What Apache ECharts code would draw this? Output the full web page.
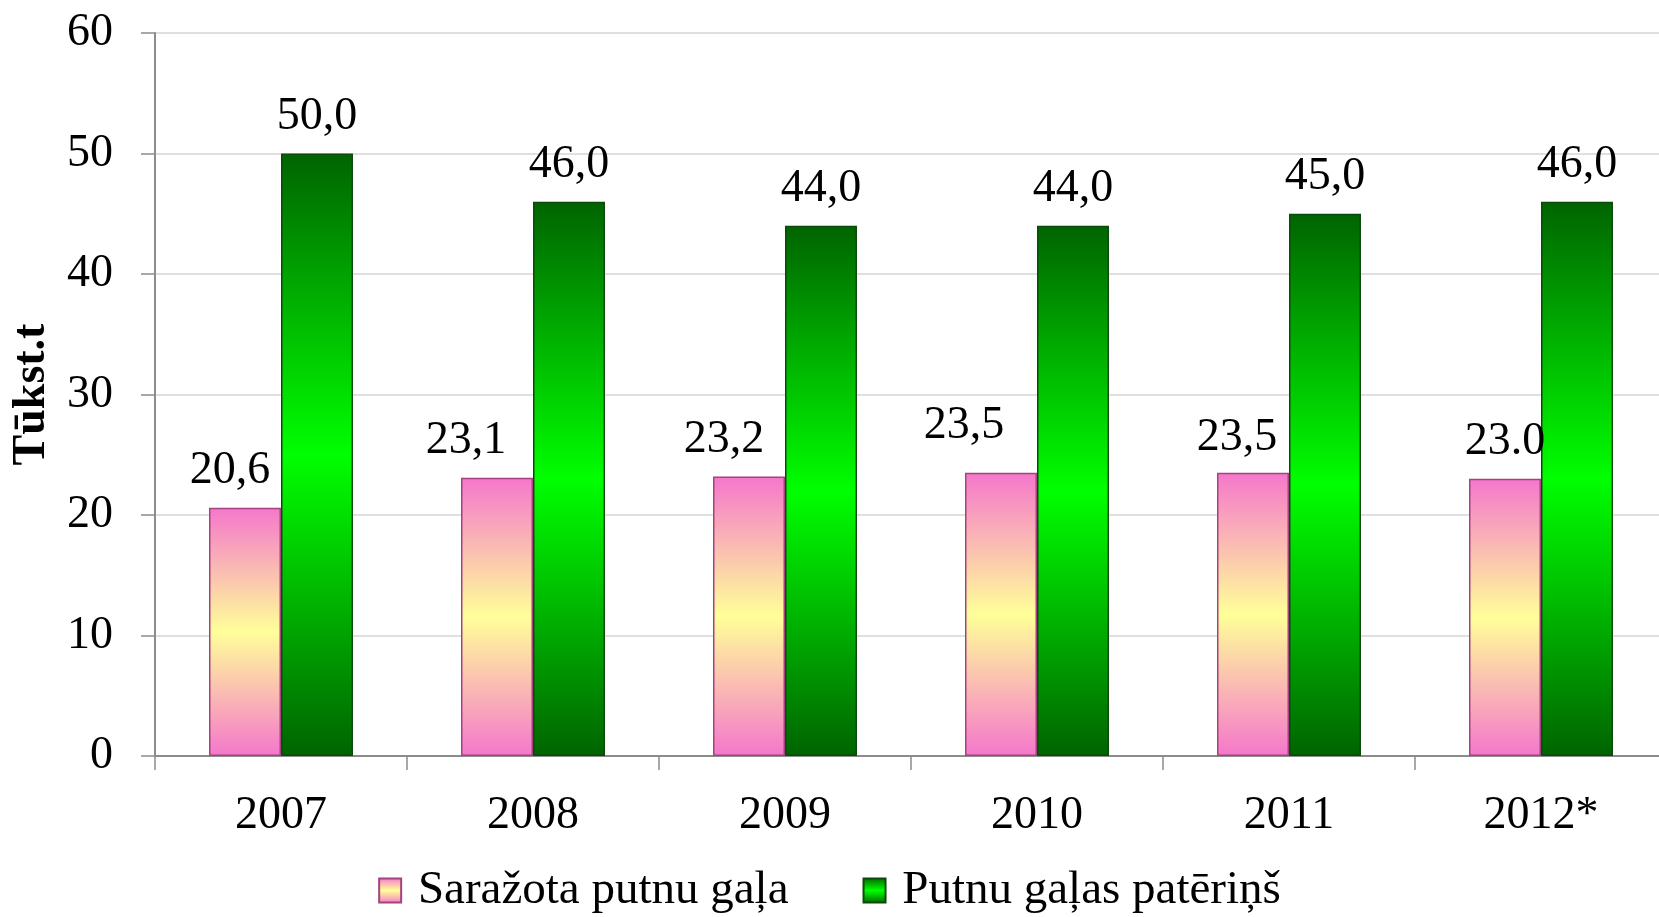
<!DOCTYPE html>
<html>
<head>
<meta charset="utf-8">
<script src="https://cdn.jsdelivr.net/npm/echarts@6/dist/echarts.min.js"></script>
<style>
html,body{margin:0;padding:0;background:#fff;}
#chart{width:1659px;height:917px;}
</style>
</head>
<body>
<div id="chart"></div>
<script>
const categories = ['2007', '2008', '2009', '2010', '2011', '2012*'];
const produced = [20.6, 23.1, 23.2, 23.5, 23.5, 23.0];
const consumed = [50.0, 46.0, 44.0, 44.0, 45.0, 46.0];
const producedLabels = ['20,6', '23,1', '23,2', '23,5', '23,5', '23.0'];
const consumedLabels = ['50,0', '46,0', '44,0', '44,0', '45,0', '46,0'];
const seriesNames = ['Saražota putnu gaļa', 'Putnu gaļas patēriņš'];
const yTicks = { min: 0, max: 60, interval: 10 };
const axisName = 'Tūkst.t';

// label nudges (style only, as in the source layout)
const pinkLabelShift = [[-15, 0], [-31, 0], [-25, 0], [-37, -10], [-16, 2], [0, 0]];

const FONT = '"Liberation Serif", "Times New Roman", serif';

const pinkGrad = new echarts.graphic.LinearGradient(0, 0, 0, 1, [
  { offset: 0, color: '#f577cc' },
  { offset: 0.5, color: '#ffff99' },
  { offset: 1, color: '#f577cc' }
]);
const greenGrad = new echarts.graphic.LinearGradient(0, 0, 0, 1, [
  { offset: 0, color: '#006400' },
  { offset: 0.5, color: '#00ff00' },
  { offset: 1, color: '#006400' }
]);

const chart = echarts.init(document.getElementById('chart'), null, { renderer: 'canvas' });

chart.setOption({
  backgroundColor: '#ffffff',
  animation: false,
  textStyle: { fontFamily: FONT },
  grid: { left: 155, right: -8, top: 33, bottom: 161, containLabel: false, outerBoundsMode: 'none' },
  legend: {
    data: seriesNames.map(n => ({ name: n, icon: 'rect' })),
    left: 'center',
    top: 862,
    itemWidth: 22,
    itemHeight: 24,
    itemGap: 74,
    textStyle: { fontFamily: FONT, fontSize: 47, color: '#000' },
    formatter: n => ' ' + n
  },
  xAxis: {
    type: 'category',
    data: categories,
    axisLine: { lineStyle: { color: '#8c8c8c', width: 2 } },
    axisTick: { show: true, length: 14, alignWithLabel: false, lineStyle: { color: '#8c8c8c', width: 1.5 } },
    axisLabel: { fontFamily: FONT, fontSize: 46, color: '#000', margin: 37 },
    splitLine: { show: false }
  },
  yAxis: {
    type: 'value',
    min: yTicks.min,
    max: yTicks.max,
    interval: yTicks.interval,
    name: axisName,
    nameLocation: 'middle',
    nameGap: 100,
    nameTextStyle: { fontFamily: FONT, fontSize: 46, fontWeight: 'bold', color: '#000' },
    axisLine: { show: true, lineStyle: { color: '#8c8c8c', width: 2 } },
    axisTick: { show: true, length: 14, lineStyle: { color: '#8c8c8c', width: 1.5 } },
    axisLabel: { fontFamily: FONT, fontSize: 46, color: '#000', margin: 42 },
    splitLine: { show: true, lineStyle: { color: '#d4d4d4', width: 1.5 } }
  },
  series: [
    {
      name: seriesNames[0],
      type: 'bar',
      barWidth: 72,
      barGap: '0%',
      data: produced.map((v, i) => ({
        value: v,
        label: { offset: pinkLabelShift[i] }
      })),
      itemStyle: { color: pinkGrad, borderColor: '#a3437f', borderWidth: 1.5 },
      label: {
        show: true,
        position: 'top',
        distance: 14,
        fontFamily: FONT,
        fontSize: 46,
        color: '#000',
        formatter: p => producedLabels[p.dataIndex]
      }
    },
    {
      name: seriesNames[1],
      type: 'bar',
      barWidth: 72,
      barGap: '0%',
      data: consumed,
      itemStyle: { color: greenGrad, borderColor: '#0b4a0b', borderWidth: 1.5 },
      label: {
        show: true,
        position: 'top',
        distance: 14,
        fontFamily: FONT,
        fontSize: 46,
        color: '#000',
        formatter: p => consumedLabels[p.dataIndex]
      }
    }
  ]
});
</script>
</body>
</html>
